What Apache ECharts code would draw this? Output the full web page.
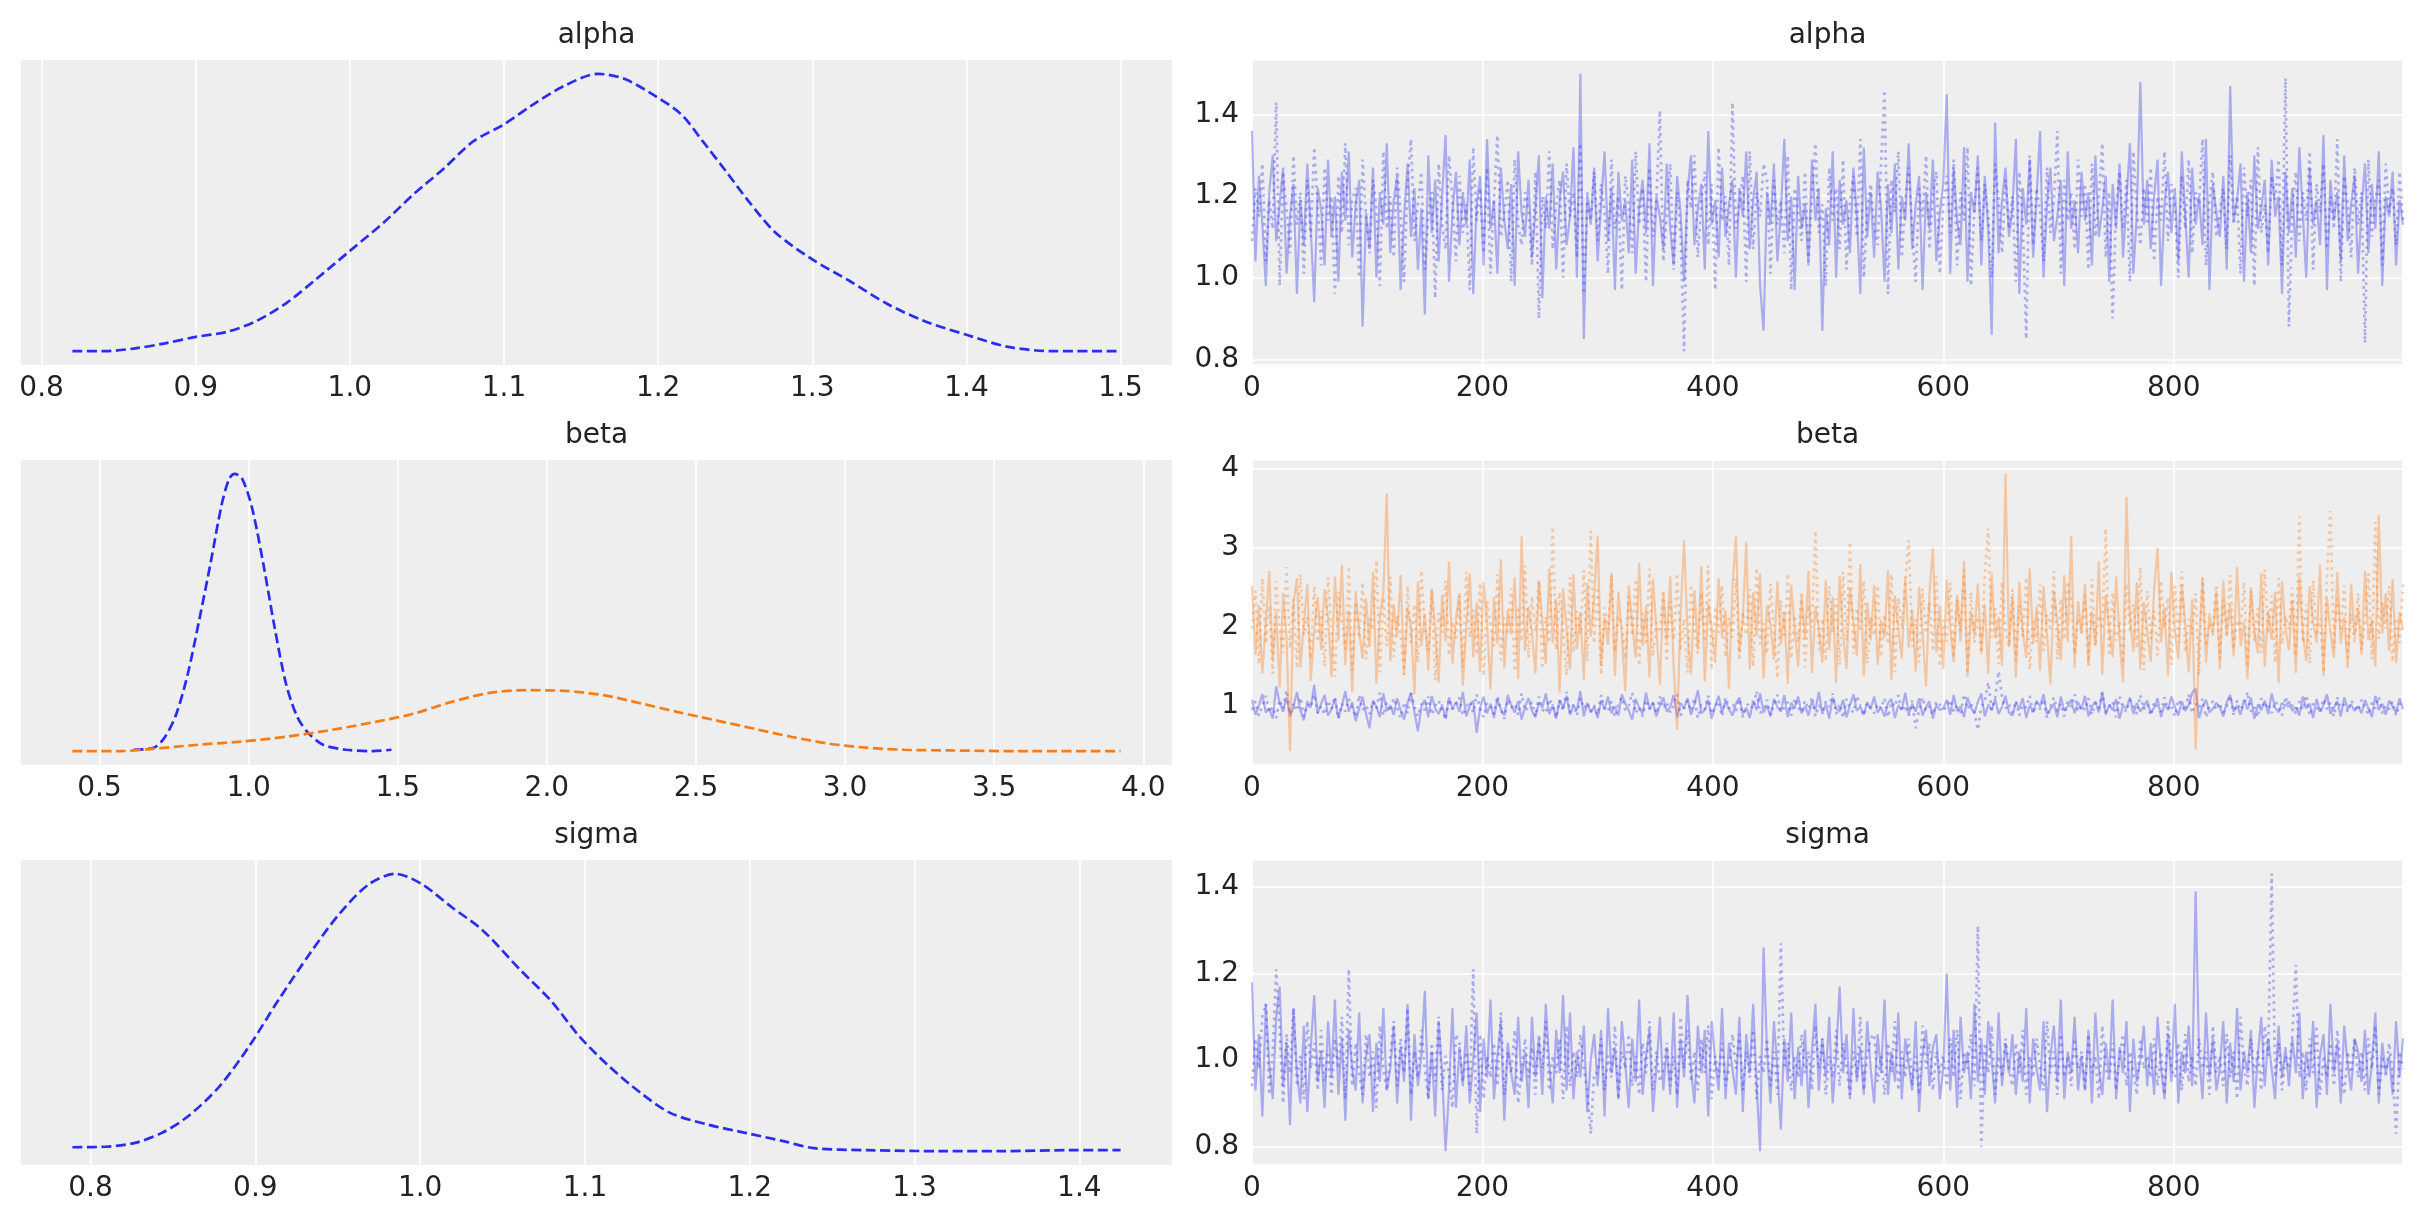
<!DOCTYPE html>
<html>
<head>
<meta charset="utf-8">
<title>trace plot</title>
<script src="https://cdn.jsdelivr.net/npm/echarts@6/dist/echarts.min.js"></script>
<style>
  html, body { margin: 0; padding: 0; background: #fff; }
  #main { width: 2423px; height: 1223px; }
</style>
</head>
<body>
<div id="main"></div>
<script>
// ---- data ----------------------------------------------------------------
var varNames = ['alpha', 'beta', 'sigma'];

// KDE curves (left column)
var alphaKdeX = [0.820,0.841,0.861,0.880,0.900,0.920,0.939,0.959,0.978,1.000,1.022,1.041,1.061,1.080,1.100,1.119,1.139,1.161,1.178,1.198,1.215,1.229,1.244,1.259,1.276,1.300,1.324,1.349,1.373,1.400,1.427,1.456,1.500];
var alphaKdeY = [0.00,0.00,0.04,0.11,0.20,0.27,0.42,0.68,1.01,1.41,1.81,2.20,2.57,2.95,3.19,3.47,3.73,3.90,3.83,3.59,3.33,2.95,2.53,2.10,1.67,1.29,0.99,0.66,0.42,0.23,0.06,0.00,0.00];

var beta0KdeX = [0.614,0.682,0.720,0.758,0.796,0.834,0.872,0.910,0.935,0.953,0.978,1.011,1.049,1.087,1.125,1.163,1.201,1.251,1.327,1.416,1.479];
var beta0KdeY = [0.02,0.05,0.21,0.55,1.13,1.91,2.74,3.61,3.98,4.05,3.98,3.56,2.74,1.81,0.99,0.50,0.26,0.09,0.02,0.00,0.02];
var beta1KdeX = [0.409,0.568,0.669,0.821,0.973,1.125,1.277,1.428,1.555,1.681,1.808,1.934,2.060,2.187,2.313,2.440,2.566,2.692,2.819,2.945,3.072,3.198,3.350,3.578,3.924];
var beta1KdeY = [0.00,0.00,0.03,0.09,0.14,0.21,0.31,0.43,0.55,0.72,0.85,0.89,0.88,0.82,0.70,0.57,0.45,0.33,0.21,0.11,0.05,0.02,0.01,0.00,0.00];

var sigmaKdeX = [0.789,0.809,0.827,0.843,0.859,0.878,0.896,0.914,0.933,0.951,0.969,0.985,1.001,1.019,1.038,1.061,1.079,1.097,1.115,1.134,1.152,1.175,1.198,1.221,1.239,1.271,1.317,1.353,1.394,1.425];
var sigmaKdeY = [0.09,0.10,0.18,0.38,0.72,1.33,2.15,3.11,4.06,4.88,5.49,5.70,5.49,5.02,4.54,3.72,3.11,2.35,1.74,1.20,0.79,0.55,0.38,0.21,0.07,0.03,0.01,0.01,0.03,0.03];

// traces (right column), every 3rd draw, values in hundredths
var drawStep = 3;
var lastDraw = 999;

var alphaChain0 = [136,104,125,113,98,121,130,109,118,127,101,115,123,96,119,108,128,112,94,122,
  117,103,129,110,120,99,126,114,131,105,118,124,88,116,107,127,100,121,113,133,
  106,119,125,97,115,128,110,122,102,117,91,130,111,124,104,120,135,99,116,126,
  108,121,113,129,96,118,125,103,134,112,119,101,127,114,107,123,98,131,116,110,
  124,105,117,130,95,120,112,128,102,119,126,108,115,132,100,150,85,121,113,127,
  104,118,131,109,122,97,126,114,119,106,129,101,117,124,111,133,98,120,115,107,
  128,112,103,125,116,99,121,130,108,117,123,102,136,113,119,105,127,110,118,124,
  100,122,115,131,107,119,126,98,87,121,113,128,104,116,134,109,120,97,125,112,
  118,103,129,114,122,87,117,108,131,100,124,113,119,106,127,115,96,132,110,121,
  105,126,117,99,123,111,128,102,120,114,133,107,118,125,97,121,112,129,104,116,
  123,145,101,127,114,108,132,99,121,116,130,103,125,112,86,138,106,119,127,110,
  117,134,96,122,113,129,105,120,136,100,118,127,109,115,124,98,131,112,119,106,
  126,114,121,103,130,110,117,125,99,123,112,128,105,119,133,101,116,148,113,124,
  107,120,129,98,118,126,111,122,104,131,115,100,127,113,120,108,134,97,123,116,
  110,125,102,147,114,119,128,99,121,106,130,112,117,124,103,129,115,120,96,126,
  111,122,105,132,116,100,127,113,119,108,135,97,124,114,121,104,130,109,118,125,
  101,117,128,106,123,112,131,98,120,115,126,103,119,113];
var alphaChain1 = [109,122,115,128,104,119,112,143,98,126,117,106,130,113,121,101,124,110,132,118,
  103,127,114,120,96,125,111,133,108,119,122,100,129,115,106,124,117,98,131,112,
  120,105,127,116,99,123,134,109,118,126,102,115,121,95,128,113,107,130,119,104,
  125,111,118,97,132,114,122,106,127,101,119,135,110,116,124,99,129,113,108,121,
  117,103,126,90,120,112,131,107,118,124,100,128,115,121,105,133,96,119,114,126,
  109,123,116,101,129,112,120,97,125,118,106,131,113,122,99,127,110,119,141,104,
  115,128,102,121,111,82,124,117,130,105,119,126,108,123,97,132,114,120,103,143,
  112,118,125,99,131,107,121,115,128,124,101,124,113,119,106,130,97,122,116,109,
  126,104,120,133,111,118,98,127,114,122,107,129,102,119,125,110,134,100,117,123,
  113,108,128,146,96,124,116,131,105,119,127,112,99,122,115,130,107,120,126,101,
  118,125,111,129,103,121,114,132,98,117,127,109,123,115,100,128,119,106,124,112,
  120,99,126,113,85,130,108,122,116,104,127,111,119,136,101,124,114,121,107,129,
  115,123,102,128,110,119,133,105,121,90,117,126,112,124,99,131,116,108,122,113,
  127,104,120,114,131,109,123,117,100,125,112,129,106,121,118,134,103,119,126,110,
  116,122,107,130,113,120,101,127,115,124,98,132,111,118,106,125,119,129,103,149,
  88,117,126,109,121,114,131,102,123,116,128,107,120,112,134,99,125,118,105,127,
  113,121,84,129,110,119,124,103,128,116,122,108,126,114];

var beta0Chain0 = [108,89,101,115,92,97,84,125,104,93,111,87,99,118,95,82,106,98,127,91,
  103,114,88,96,109,85,100,119,93,105,81,97,112,90,72,107,99,86,116,94,
  101,89,110,95,83,104,117,92,68,99,108,86,113,97,90,102,84,111,96,105,
  93,118,87,100,107,66,98,112,91,103,85,109,96,88,114,101,92,106,83,99,
  110,94,86,105,98,116,90,102,84,108,97,113,89,101,95,119,87,104,92,99,
  85,107,96,112,91,100,88,115,103,94,83,109,98,90,117,96,105,87,101,111,
  93,99,114,86,104,97,110,89,102,120,91,95,108,84,100,113,92,106,96,88,
  103,111,90,98,85,107,95,116,92,101,87,109,99,93,114,86,104,97,112,91,
  100,88,106,95,118,90,103,84,111,97,93,108,86,101,115,94,99,89,105,96,
  112,92,98,87,104,109,85,101,96,117,90,103,93,110,88,99,106,84,102,95,
  97,108,89,114,94,100,86,111,98,91,105,116,87,102,95,109,90,99,113,92,
  88,104,97,110,85,101,93,107,99,115,90,96,103,86,112,94,100,108,91,105,
  96,113,87,99,106,92,118,89,102,95,109,84,101,97,111,90,104,93,100,107,
  91,98,110,86,103,95,112,99,88,106,94,101,117,122,85,100,108,92,97,104,
  99,87,105,114,93,101,89,108,96,111,84,102,95,107,90,116,98,92,104,100,
  106,94,99,88,112,97,103,85,109,93,101,115,90,98,106,87,111,96,102,94,
  100,91,108,97,86,113,95,103,89,107,99,92,110,96];
var beta0Chain1 = [95,106,88,101,113,92,99,85,108,97,120,90,104,94,111,87,102,98,115,91,
  100,89,107,96,112,84,103,93,109,99,86,114,95,101,90,106,97,117,88,104,
  93,110,98,85,105,91,116,99,87,103,95,112,89,100,107,94,83,109,96,102,
  111,88,99,106,92,115,97,86,104,101,90,113,95,84,108,98,103,89,116,94,
  99,105,87,112,96,91,109,100,85,107,94,118,92,102,88,110,97,104,93,101,
  89,114,98,93,106,86,103,111,95,100,117,91,99,87,108,96,104,90,112,97,
  105,92,101,115,88,98,107,94,110,85,102,96,113,90,99,106,87,111,97,103,
  94,109,86,100,104,97,119,91,96,108,89,101,114,93,98,105,88,110,99,92,
  107,96,112,87,101,94,106,99,116,90,103,85,109,97,92,113,100,88,104,98,
  91,103,97,110,86,105,99,114,93,101,88,107,72,96,111,94,100,89,106,102,
  96,98,108,93,101,89,115,96,104,91,70,99,106,130,95,110,144,112,97,103,
  92,107,88,102,98,113,90,104,96,109,85,100,111,94,103,87,106,99,115,93,
  101,95,110,89,104,97,117,92,99,106,86,112,98,93,108,100,90,114,96,103,
  88,105,99,93,111,96,102,87,108,100,94,115,91,103,97,109,86,101,106,95,
  104,92,98,113,89,107,95,101,118,93,99,86,110,97,104,91,106,100,88,112,
  97,101,90,106,95,114,88,103,99,92,109,96,105,87,111,98,102,93,107,100,
  94,108,99,89,104,97,112,91,101,96,106,88,103,99];

var beta1Chain0 = [252,165,228,141,207,271,158,219,124,243,186,43,231,262,149,203,255,132,196,238,
  171,248,212,137,264,183,279,152,221,118,246,193,160,236,175,270,128,214,244,369,
  157,229,187,266,139,225,201,115,258,176,217,145,249,198,130,241,182,283,154,210,
  243,126,199,268,162,231,143,257,206,121,238,179,286,148,222,191,263,134,315,170,
  226,195,141,259,209,153,274,180,236,117,249,197,146,267,172,219,133,256,188,240,
  316,151,213,178,269,138,245,190,119,253,204,161,281,176,227,136,261,197,127,242,
  182,264,149,70,218,310,193,140,247,173,277,131,230,199,155,262,186,221,122,250,
  315,168,211,308,146,244,189,268,135,228,203,159,258,178,219,128,254,196,150,239,
  185,271,142,226,198,155,259,171,238,129,265,192,147,249,207,164,280,138,231,183,
  253,152,209,187,272,133,240,197,160,263,174,222,144,251,193,125,243,300,168,227,
  147,260,201,156,241,182,284,137,219,190,255,166,229,141,268,186,213,151,394,175,
  238,136,257,195,161,274,179,226,145,252,191,127,246,205,158,266,181,315,148,233,
  192,255,153,220,177,283,140,241,198,162,264,185,130,365,212,169,257,146,232,194,
  156,248,300,181,225,139,270,194,160,254,203,143,235,45,178,262,155,217,189,246,
  147,259,190,228,163,276,176,207,134,250,195,167,268,150,221,184,245,129,258,198,
  171,234,142,265,193,157,252,206,180,279,138,237,194,161,270,179,213,148,255,189,
  224,165,271,184,210,150,342,192,243,170,261,155,219,196];
var beta1Chain1 = [198,246,153,262,179,227,141,258,196,167,276,173,235,148,267,190,213,160,252,181,
  221,150,263,194,137,245,208,172,277,145,232,186,257,159,211,196,285,143,238,176,
  264,162,214,191,140,252,180,229,155,272,199,170,247,133,218,193,259,164,207,185,
  240,149,270,187,222,165,256,138,233,204,176,267,158,212,190,249,144,226,182,278,
  161,239,194,258,147,213,180,327,171,244,196,139,263,168,220,191,272,157,322,179,
  251,140,225,197,266,169,214,203,160,239,189,261,151,218,177,274,163,206,193,247,
  156,233,184,268,170,210,142,254,198,166,243,181,278,146,226,193,253,162,212,187,
  262,158,219,190,248,150,275,178,205,166,255,195,135,234,186,268,160,215,180,245,
  149,228,199,322,171,211,157,252,193,236,152,270,183,308,166,224,195,259,154,213,
  189,253,162,216,178,267,143,237,197,258,310,175,210,155,249,192,231,169,264,150,
  209,182,256,161,235,194,273,141,244,180,213,167,266,325,187,224,153,257,196,176,
  248,158,228,188,263,146,207,181,254,170,216,195,271,159,236,184,258,232,166,211,
  192,240,151,261,176,215,197,325,163,244,183,207,154,255,194,229,173,276,145,246,
  185,221,164,259,198,238,152,252,180,271,168,210,191,243,139,263,176,205,194,254,
  160,235,187,266,172,209,196,257,149,246,182,224,167,273,192,240,155,262,178,214,
  197,250,163,340,180,229,154,259,189,211,142,265,347,173,236,195,253,161,217,180,
  243,171,207,268,159,333,185,231,198,252,156,212,180,256];

var sigmaChain0 = [118,93,106,87,113,99,91,110,117,94,104,85,112,97,90,108,88,103,115,95,
  102,89,109,96,114,92,105,86,107,98,93,111,90,101,106,88,104,95,112,93,
  98,108,90,103,95,113,86,106,94,101,116,91,102,87,109,97,79,93,112,89,
  103,94,108,90,100,111,88,105,96,114,91,101,109,86,104,97,92,110,95,102,
  89,110,96,105,92,113,99,90,107,97,115,93,111,91,102,96,108,88,100,106,
  94,107,87,112,97,103,91,109,99,89,105,95,114,92,101,107,88,98,110,93,
  103,92,111,89,105,96,115,98,90,108,97,107,87,109,100,93,112,91,104,98,
  92,110,88,106,97,113,94,79,126,102,90,109,98,84,105,95,111,91,103,94,
  107,89,102,113,93,105,96,110,90,101,117,97,106,91,112,95,103,92,109,98,
  90,106,97,114,92,102,95,111,91,105,99,93,109,88,101,107,94,103,106,91,
  98,120,93,107,89,110,97,102,91,113,95,105,92,109,100,90,111,94,104,97,
  106,92,102,95,112,90,105,98,93,109,88,101,108,95,114,91,102,97,110,93,
  101,93,107,90,111,98,92,104,96,114,91,103,97,109,88,105,95,100,108,94,
  104,92,110,98,91,106,95,113,90,102,97,108,94,139,101,91,111,96,105,93,
  98,109,90,104,95,112,93,102,97,107,89,101,110,94,105,98,91,108,96,103,
  94,105,97,111,91,102,96,109,89,101,106,92,113,97,104,90,108,99,93,105,
  102,95,107,92,99,111,90,104,97,101,92,109,96,105];
var sigmaChain1 = [94,105,98,110,113,92,102,121,107,90,106,97,112,94,101,91,109,98,104,93,
  107,95,102,92,105,98,110,91,121,94,104,97,92,106,96,102,89,108,98,93,
  101,109,94,105,97,112,92,102,96,107,98,91,104,95,110,93,101,97,89,106,
  104,95,102,93,121,83,106,91,101,96,104,94,111,92,102,97,107,90,98,105,
  96,103,92,106,98,109,93,101,97,105,91,108,94,102,96,106,98,93,83,97,
  97,105,93,101,96,108,91,102,98,106,94,101,92,104,97,109,93,102,95,98,
  104,94,101,92,110,98,107,95,102,93,105,97,108,91,101,96,104,94,98,106,
  98,106,93,102,96,107,91,101,97,105,94,102,92,127,98,104,93,101,96,106,
  97,102,93,108,98,105,92,101,96,107,94,104,98,92,102,96,110,93,101,105,
  106,95,101,92,104,97,109,93,102,96,105,94,101,92,108,98,104,93,102,97,
  101,94,105,96,107,91,102,98,106,94,131,80,104,97,108,92,101,96,105,98,
  94,104,97,107,92,101,96,105,98,93,109,97,102,92,106,96,101,94,105,98,
  102,93,106,97,101,91,108,98,95,104,93,101,106,94,102,97,92,105,98,101,
  96,105,94,102,92,109,98,96,104,93,106,95,101,94,105,98,102,92,108,97,
  101,94,106,96,102,91,110,98,94,105,97,102,93,108,101,143,96,104,93,101,
  98,106,122,96,102,93,105,97,108,92,101,96,104,94,107,98,92,102,97,105,
  96,102,93,105,98,108,92,101,96,104,97,83,102,98];

// ---- helpers -------------------------------------------------------------
var C0 = '#2a2eec', C1 = '#fa7c17';
var FONT = 'DejaVu Sans';
var TXT = '#222222';

// matplotlib style 5% margins
function pad(vals) {
    var lo = Math.min.apply(null, vals), hi = Math.max.apply(null, vals);
    var s = (hi - lo) * 0.05;
    return [lo - s, hi + s];
}
function toPairs(xs, ys) {
    return xs.map(function (x, i) { return [x, ys[i]]; });
}
function chainPairs(vals) {
    return vals.map(function (v, i) { return [Math.min(i * drawStep, lastDraw), v / 100]; });
}
function scaled(vals) {
    return vals.map(function (v) { return v / 100; });
}

var colLeft = [20, 1252];
var colWidth = [1153, 1151];
var rowTop = [60, 460, 860];
var panelH = 305;

var grids = [], xAxes = [], yAxes = [], titles = [], series = [];

function addPanel(row, col, name) {
    var idx = grids.length;
    grids.push({
        left: colLeft[col], top: rowTop[row], width: colWidth[col], height: panelH,
        show: true, backgroundColor: '#eeeeee', borderWidth: 0
    });
    titles.push({
        text: name, left: colLeft[col] + colWidth[col] / 2, top: rowTop[row] - 38,
        textAlign: 'center', padding: 0,
        textStyle: { fontFamily: FONT, fontSize: 28, fontWeight: 'normal', color: TXT }
    });
    return idx;
}

function valueAxis(idx, range, splitNumber, fmt, showMin, showLabels, showSplit, margin) {
    return {
        type: 'value', gridIndex: idx, min: range[0], max: range[1], splitNumber: splitNumber,
        axisLine: { show: false }, axisTick: { show: false },
        axisLabel: {
            show: showLabels, formatter: fmt, showMinLabel: showMin, showMaxLabel: false,
            fontFamily: FONT, fontSize: 28, color: TXT, margin: margin
        },
        splitLine: { show: showSplit, lineStyle: { color: '#ffffff', width: 1.6 } }
    };
}
function fix1(v) { return v.toFixed(1); }
function asInt(v) { return String(Math.round(v)); }

function kdeLine(idx, xs, ys, color) {
    series.push({
        type: 'line', xAxisIndex: idx, yAxisIndex: idx, data: toPairs(xs, ys),
        showSymbol: false, smooth: 0.3, silent: true,
        lineStyle: { color: color, width: 2.7, type: [10, 4.5] }
    });
}
function traceLine(idx, vals, color, dotted) {
    series.push({
        type: 'line', xAxisIndex: idx, yAxisIndex: idx, data: chainPairs(vals),
        showSymbol: false, silent: true,
        lineStyle: { color: color, width: dotted ? 2.7 : 2.2, opacity: 0.35,
                     type: dotted ? [2.7, 4.5] : 'solid' }
    });
}

// ---- left column: KDEs ---------------------------------------------------
var kdeSets = [
    [[alphaKdeX, alphaKdeY, C0]],
    [[beta0KdeX, beta0KdeY, C0], [beta1KdeX, beta1KdeY, C1]],
    [[sigmaKdeX, sigmaKdeY, C0]]
];
kdeSets.forEach(function (set, row) {
    var idx = addPanel(row, 0, varNames[row]);
    var allX = [], allY = [];
    set.forEach(function (s) { allX = allX.concat(s[0]); allY = allY.concat(s[1]); });
    xAxes.push(valueAxis(idx, pad(allX), 7, fix1, false, true, true, 10));
    yAxes.push(valueAxis(idx, pad(allY), 5, null, false, false, false, 10));
    set.forEach(function (s) { kdeLine(idx, s[0], s[1], s[2]); });
});

// ---- right column: traces ------------------------------------------------
var traceSets = [
    [[alphaChain0, alphaChain1, C0]],
    [[beta0Chain0, beta0Chain1, C0], [beta1Chain0, beta1Chain1, C1]],
    [[sigmaChain0, sigmaChain1, C0]]
];
var traceFmt = [fix1, asInt, fix1];
traceSets.forEach(function (set, row) {
    var idx = addPanel(row, 1, varNames[row]);
    var allY = [];
    set.forEach(function (s) { allY = allY.concat(scaled(s[0]), scaled(s[1])); });
    xAxes.push(valueAxis(idx, [0, lastDraw], 5, asInt, true, true, true, 10));
    yAxes.push(valueAxis(idx, pad(allY), 4, traceFmt[row], false, true, true, 13));
    set.forEach(function (s) {
        traceLine(idx, s[0], s[2], false);
        traceLine(idx, s[1], s[2], true);
    });
});

var chart = echarts.init(document.getElementById('main'), null, { renderer: 'canvas' });
chart.setOption({
    animation: false,
    backgroundColor: '#ffffff',
    title: titles,
    grid: grids,
    xAxis: xAxes,
    yAxis: yAxes,
    series: series
});
</script>
</body>
</html>
